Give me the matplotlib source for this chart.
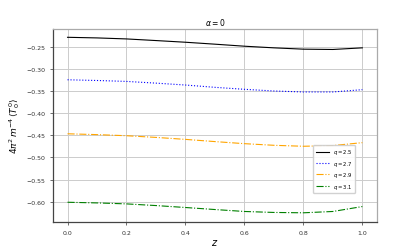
import numpy as np
import matplotlib
matplotlib.use('Agg')
import matplotlib.pyplot as plt

z = [0.0, 0.1, 0.2, 0.3, 0.4, 0.5, 0.6, 0.7, 0.8, 0.9, 1.0]
t_q25 = [-0.2276, -0.2290, -0.2313, -0.2350, -0.2388, -0.2432, -0.2478, -0.2515, -0.2545, -0.2552, -0.2515]
t_q27 = [-0.3239, -0.3255, -0.3276, -0.3315, -0.3358, -0.3410, -0.3455, -0.3493, -0.3515, -0.3515, -0.3463]
t_q29 = [-0.4463, -0.4482, -0.4507, -0.4545, -0.4590, -0.4640, -0.4687, -0.4724, -0.4746, -0.4730, -0.4664]
t_q31 = [-0.6015, -0.6030, -0.6052, -0.6090, -0.6134, -0.6180, -0.6224, -0.6246, -0.6254, -0.6224, -0.6112]

fig = plt.figure(figsize=(4.19, 2.51), dpi=100)
ax = fig.add_axes([0.126, 0.112, 0.774, 0.769])

ax.plot(z, t_q25, color='black', linestyle='-', linewidth=0.8, label='$q=2.5$')
ax.plot(z, t_q27, color='blue', linestyle=':', linewidth=0.8, label='$q=2.7$')
ax.plot(z, t_q29, color='orange', linestyle='-.', linewidth=0.8, label='$q=2.9$')
ax.plot(z, t_q31, color='green', linestyle='-.', linewidth=0.8, label='$q=3.1$')

ax.set_ylim(-0.646, -0.2085)
ax.set_yticks([-0.60, -0.55, -0.50, -0.45, -0.40, -0.35, -0.30, -0.25])
ax.set_xticks([0.0, 0.2, 0.4, 0.6, 0.8, 1.0])
ax.tick_params(labelsize=4.5, length=2, width=0.5, colors='#333333')
ax.grid(True, color='#cccccc', linewidth=0.7)
for s in ['left', 'bottom']:
    ax.spines[s].set_color('#444444')
    ax.spines[s].set_linewidth(0.9)
for s in ['top', 'right']:
    ax.spines[s].set_color('#aaaaaa')
    ax.spines[s].set_linewidth(0.9)

ax.set_title(r'$\alpha = 0$', fontsize=5.5, pad=3)
ax.set_xlabel('$z$', fontsize=7, labelpad=2)
ax.set_ylabel(r'$4\pi^2\, m^{-4}\, \langle T^0_0 \rangle$', fontsize=6.5, labelpad=3)
ax.legend(fontsize=3.8, loc='lower left', bbox_to_anchor=(0.795, 0.135),
          handlelength=2.4, labelspacing=0.45, borderpad=0.5, framealpha=0.9)

fig.savefig('out.png', dpi=100)
